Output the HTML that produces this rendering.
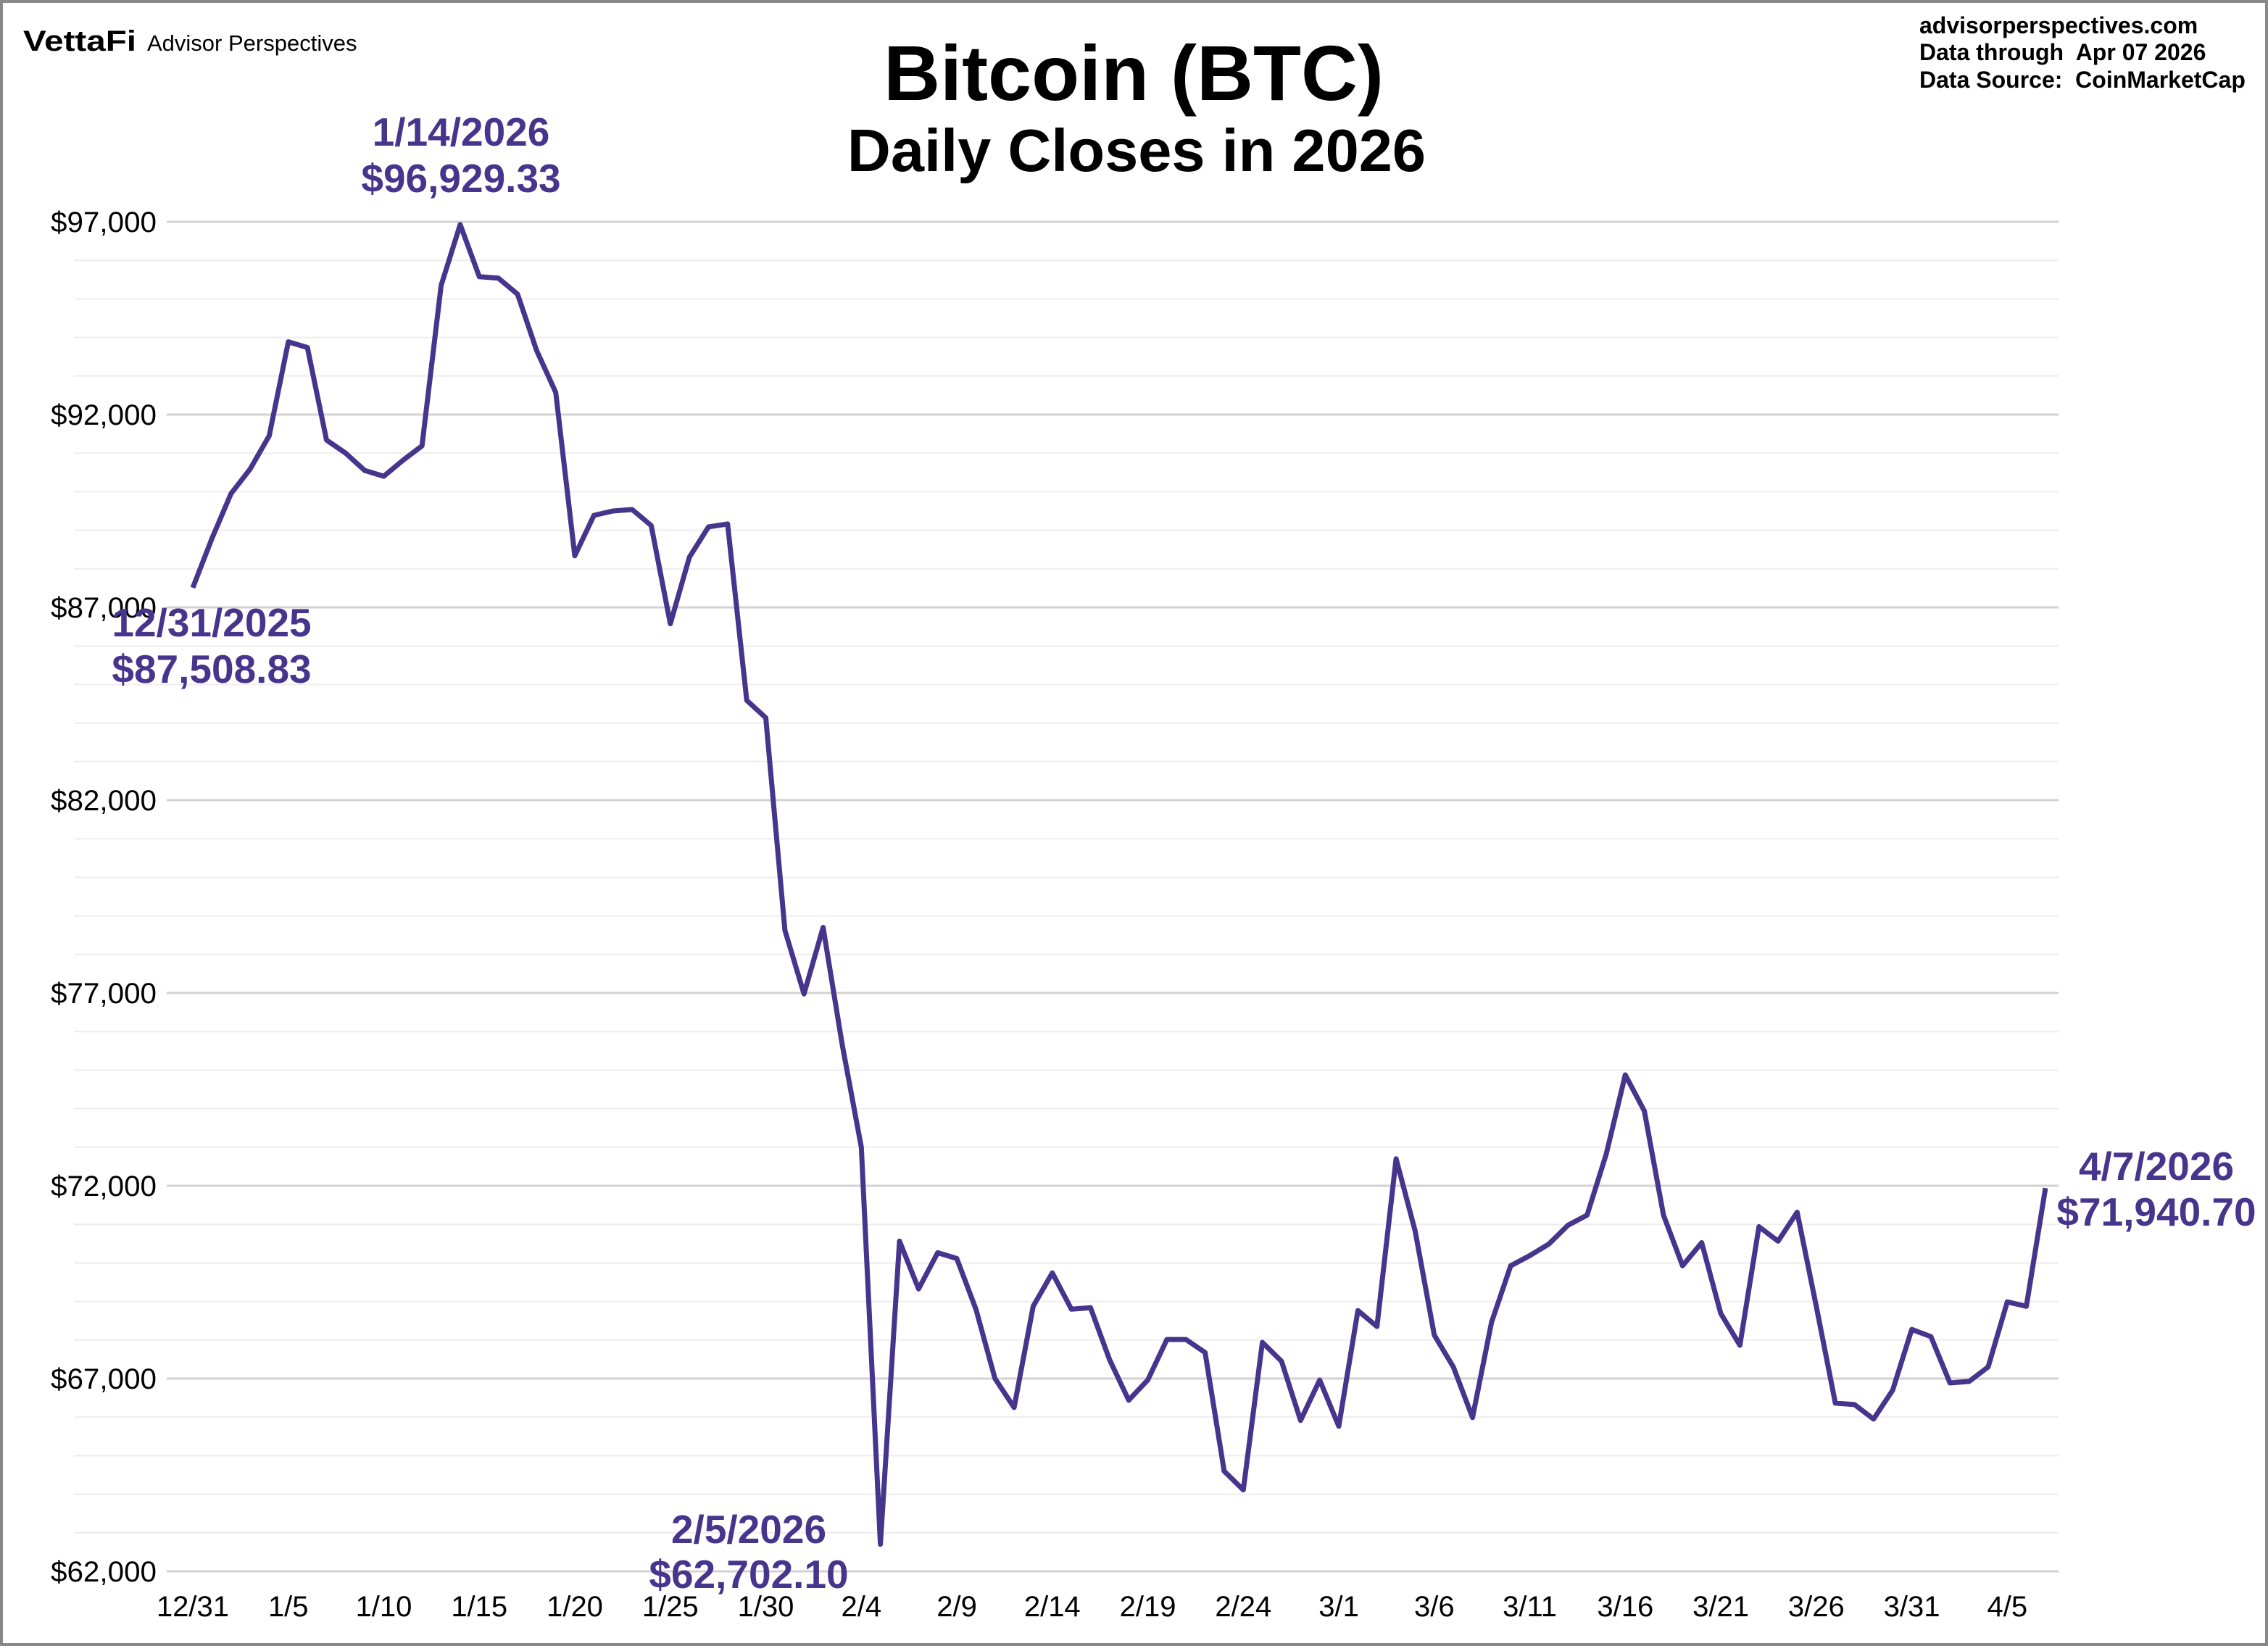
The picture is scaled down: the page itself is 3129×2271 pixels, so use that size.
<!DOCTYPE html>
<html><head><meta charset="utf-8"><style>
html,body{margin:0;padding:0;background:#fff}
svg{display:block}
text{font-family:"Liberation Sans",Arial,sans-serif}
.narrow{font-family:"Liberation Sans Narrow","Liberation Sans",sans-serif}
</style></head><body>
<svg id="chart" width="3129" height="2271" viewBox="0 0 3129 2271" xmlns="http://www.w3.org/2000/svg">
<rect x="2" y="2" width="3125" height="2267" fill="#fff" stroke="#888" stroke-width="4"/>
<g id="grid"></g>
<g id="yticks"></g>
<g id="xticks"></g>
<path id="line" fill="none" stroke="#46358c" stroke-width="7" stroke-linejoin="round"/>
<text x="32" y="70" font-size="40" font-weight="bold" textLength="156" lengthAdjust="spacingAndGlyphs">VettaFi</text>
<text x="203" y="70" font-size="31">Advisor Perspectives</text>
<text x="1564" y="138" font-size="108" font-weight="bold" text-anchor="middle">Bitcoin (BTC)</text>
<text x="1568" y="236" font-size="83" font-weight="bold" text-anchor="middle">Daily Closes in 2026</text>
<text x="2648" y="46" font-size="32" font-weight="bold">advisorperspectives.com</text>
<text x="2648" y="83" font-size="32" font-weight="bold">Data through&#160; Apr 07 2026</text>
<text x="2648" y="121" font-size="32" font-weight="bold">Data Source:&#160; CoinMarketCap</text>
<g fill="#46358c" font-weight="bold" font-size="55" text-anchor="middle">
<text x="636" y="201">1/14/2026</text>
<text x="636" y="265">$96,929.33</text>
<text x="292" y="878">12/31/2025</text>
<text x="292" y="942">$87,508.83</text>
<text x="1033" y="2129">2/5/2026</text>
<text x="1033" y="2191">$62,702.10</text>
<text x="2975" y="1628">4/7/2026</text>
<text x="2975" y="1691">$71,940.70</text>
</g>
</svg>
<script>
const values=[87508.83,88787,89950,90588,91450,93888,93738,91338,91000,90550,90400,90813,91188,95350,96929.33,95575,95538,95125,93663,92575,88338,89388,89500,89538,89125,86575,88300,89088,89163,84588,84138,78625,76975,78700,75663,73000,62702.10,70563,69325,70263,70113,68800,67000,66250,68875,69738,68800,68838,67488,66438,66963,68013,68013,67675,64600,64113,67938,67450,65913,66963,65763,68763,68350,72700,70825,68125,67300,65988,68463,69925,70188,70488,70975,71238,72813,74875,73938,71238,69925,70525,68688,67863,70938,70563,71313,68875,66363,66325,65950,66700,68275,68088,66888,66925,67300,68988,68875,71940.70];
const xLabels=["12/31","1/5","1/10","1/15","1/20","1/25","1/30","2/4","2/9","2/14","2/19","2/24","3/1","3/6","3/11","3/16","3/21","3/26","3/31","4/5"];
const yTicks=[62000,67000,72000,77000,82000,87000,92000,97000];
const NS="http://www.w3.org/2000/svg";
const X0=266,X1=2822,Y0=306,Y1=2168,VMAX=97000,VMIN=62000,N=97;
function xs(i){return X0+(X1-X0)*i/N;}
function ys(v){return Y0+(VMAX-v)/(VMAX-VMIN)*(Y1-Y0);}
const grid=document.getElementById('grid');
for(let v=VMIN;v<=VMAX;v+=1000){
  const major=(v-VMIN)%5000===0;
  const l=document.createElementNS(NS,'line');
  
  
  l.setAttribute('x1',major?230:102);l.setAttribute('x2',2840);
  l.setAttribute('y1',ys(v));l.setAttribute('y2',ys(v));
  l.setAttribute('stroke',major?'#d2d2d2':'#ededed');l.setAttribute('stroke-width',major?3:2);
  grid.appendChild(l);
}
const yt=document.getElementById('yticks');
yTicks.forEach(v=>{
  const t=document.createElementNS(NS,'text');
  
  
  t.setAttribute('x',216);t.setAttribute('y',ys(v)+14);
  t.setAttribute('text-anchor','end');t.setAttribute('font-size','40');
  t.setAttribute('textLength','146');t.setAttribute('lengthAdjust','spacingAndGlyphs');
  t.textContent='$'+v.toLocaleString('en-US');
  yt.appendChild(t);
});
const xt=document.getElementById('xticks');
xLabels.forEach((s,k)=>{
  const t=document.createElementNS(NS,'text');
  
  
  t.setAttribute('x',xs(k*5));t.setAttribute('y',2230);
  t.setAttribute('text-anchor','middle');t.setAttribute('font-size','40');
  t.setAttribute('class','narrow');
  t.textContent=s;
  xt.appendChild(t);
});
let d='';
values.forEach((v,i)=>{d+=(i?'L':'M')+xs(i).toFixed(1)+','+ys(v).toFixed(1);});
document.getElementById('line').setAttribute('d',d);
</script>
</body></html>
